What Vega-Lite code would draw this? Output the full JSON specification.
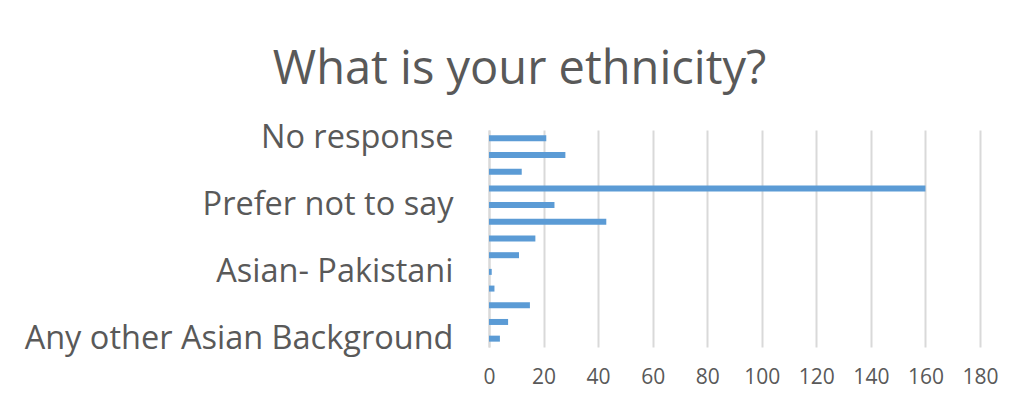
{
  "$schema": "https://vega.github.io/schema/vega-lite/v6.json",
  "width": 491,
  "height": 217,
  "autosize": {"type": "none"},
  "padding": {"left": 489, "top": 130, "right": 40, "bottom": 56},
  "background": "white",
  "title": {
    "text": "What is your ethnicity?",
    "font": "Open Sans",
    "fontSize": 47,
    "fontWeight": "normal",
    "color": "#595959",
    "anchor": "middle",
    "dx": -215,
    "offset": 28
  },
  "data": {
    "values": [
      {"ethnicity": "No response\u00a0", "order": 1, "count": 21},
      {"ethnicity": "White- Other", "order": 2, "count": 28},
      {"ethnicity": "White- Irish", "order": 3, "count": 12},
      {"ethnicity": "White- British", "order": 4, "count": 160},
      {"ethnicity": "Prefer not to say", "order": 5, "count": 24},
      {"ethnicity": "Other ethnic group", "order": 6, "count": 43},
      {"ethnicity": "Mixed", "order": 7, "count": 17},
      {"ethnicity": "Black- African", "order": 8, "count": 11},
      {"ethnicity": "Asian- Pakistani", "order": 9, "count": 1},
      {"ethnicity": "Asian- Indian", "order": 10, "count": 2},
      {"ethnicity": "Asian- Chinese", "order": 11, "count": 15},
      {"ethnicity": "Asian- Bangladeshi", "order": 12, "count": 7},
      {"ethnicity": "Any other Asian Background", "order": 13, "count": 4}
    ]
  },
  "mark": {"type": "bar", "color": "#5b9bd5", "size": 6},
  "encoding": {
    "y": {
      "field": "ethnicity",
      "type": "nominal",
      "sort": {"field": "order", "order": "ascending"},
      "scale": {"paddingInner": 0, "paddingOuter": 0},
      "axis": {
        "title": null,
        "labelExpr": "indexof(['No response\u00a0','Prefer not to say','Asian- Pakistani','Any other Asian Background'], datum.value) >= 0 ? datum.value : ''",
        "labelFont": "Open Sans",
        "labelFontSize": 32.5,
        "labelColor": "#595959",
        "labelPadding": 36,
        "labelLimit": 700,
        "ticks": false,
        "domainColor": "#d9d9d9",
        "domainWidth": 2,
        "grid": false
      }
    },
    "x": {
      "field": "count",
      "type": "quantitative",
      "scale": {"domain": [0, 180], "nice": false},
      "axis": {
        "title": null,
        "values": [0, 20, 40, 60, 80, 100, 120, 140, 160, 180],
        "labelFont": "Open Sans",
        "labelFontSize": 21,
        "labelColor": "#595959",
        "labelPadding": 19,
        "labelFlush": false,
        "ticks": false,
        "domain": false,
        "grid": true,
        "gridColor": "#d9d9d9",
        "gridWidth": 2
      }
    }
  },
  "config": {"view": {"stroke": null}}
}
